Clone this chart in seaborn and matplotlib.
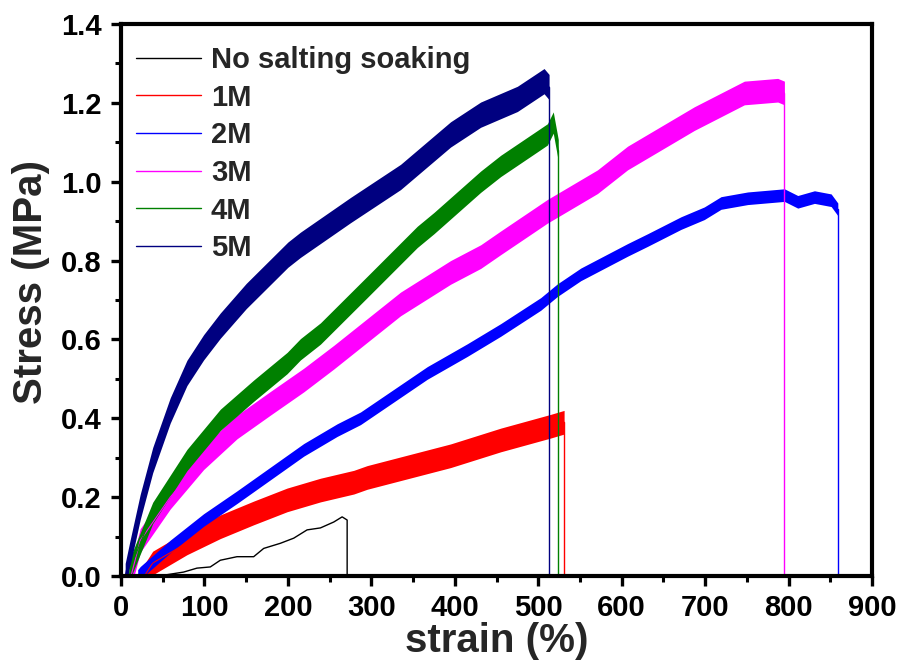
import matplotlib
matplotlib.use("Agg")
import matplotlib.pyplot as plt
import pandas as pd
import seaborn as sns
from matplotlib.ticker import MultipleLocator, FormatStrFormatter

# Tensile curves: strain (%) vs stress (MPa) for each soaking concentration
strain_none = [45, 75, 91, 107, 119, 139, 159, 171, 191, 207, 223, 239, 255, 265, 271, 271]
stress_none = [0.0, 0.010, 0.020, 0.023, 0.040, 0.049, 0.049, 0.070, 0.083, 0.096, 0.117,
               0.122, 0.137, 0.150, 0.142, 0.0]

strain_1M = [28, 38, 79, 119, 159, 199, 239, 279, 295, 395, 455, 515, 531]
stress_1M = [0.0, 0.033, 0.084, 0.125, 0.160, 0.193, 0.218, 0.238, 0.250, 0.305, 0.345, 0.380, 0.390]

strain_2M = [20, 23, 59, 99, 139, 179, 219, 259, 287, 367, 415, 455, 503, 523, 551, 607, 631,
             671, 699, 719, 751, 795, 811, 831, 851, 859]
stress_2M = [0.0, 0.008, 0.075, 0.142, 0.200, 0.260, 0.320, 0.370, 0.400, 0.515, 0.573, 0.624,
             0.690, 0.725, 0.765, 0.827, 0.852, 0.895, 0.920, 0.946, 0.958, 0.966, 0.949, 0.961,
             0.953, 0.930]

strain_3M = [12, 23, 59, 99, 139, 179, 219, 255, 335, 395, 431, 455, 511, 571, 607, 687, 747,
             787, 795]
stress_3M = [0.0, 0.090, 0.200, 0.300, 0.378, 0.438, 0.497, 0.555, 0.690, 0.770, 0.810, 0.845,
             0.925, 1.000, 1.060, 1.160, 1.225, 1.232, 1.225]

strain_4M = [10, 11, 38, 79, 119, 159, 199, 215, 239, 295, 355, 375, 431, 455, 511, 518, 524]
stress_4M = [0.0, 0.020, 0.160, 0.294, 0.396, 0.470, 0.540, 0.575, 0.615, 0.733, 0.860, 0.895,
             1.000, 1.040, 1.120, 1.150, 1.080]

strain_5M = [5, 11, 23, 38, 59, 79, 99, 119, 150, 200, 215, 275, 335, 395, 431, 475, 507, 513]
stress_5M = [0.0, 0.060, 0.175, 0.294, 0.420, 0.515, 0.580, 0.635, 0.710, 0.815, 0.840, 0.928,
             1.012, 1.120, 1.170, 1.210, 1.255, 1.240]

# half-width of the measurement noise band on each curve (MPa)
noise_1M, noise_2M, noise_3M, noise_4M, noise_5M = 0.030, 0.016, 0.030, 0.027, 0.032

labels = ["No salting soaking", "1M", "2M", "3M", "4M", "5M"]
colors = ["#000000", "#FF0000", "#0000FF", "#FF00FF", "#008000", "#000080"]

sns.set_style("ticks")
plt.rcParams["font.family"] = ["Liberation Sans", "DejaVu Sans"]
plt.rcParams["font.weight"] = "bold"

fig = plt.figure(figsize=(8.99, 6.68), dpi=100)
ax = fig.add_axes([0.1346, 0.1377, 0.8354, 0.8264])

# untreated sample: single thin trace including its break
sns.lineplot(x=strain_none, y=stress_none, estimator=None, sort=False, color=colors[0],
             lw=1.0, label=labels[0], ax=ax)

banded = [
    (strain_1M, stress_1M, noise_1M),
    (strain_2M, stress_2M, noise_2M),
    (strain_3M, stress_3M, noise_3M),
    (strain_4M, stress_4M, noise_4M),
    (strain_5M, stress_5M, noise_5M),
]

for (sx, sy, half), lab, col in zip(banded, labels[1:], colors[1:]):
    rows = []
    for x, y in zip(sx, sy):
        rows.append((x, y - half))
        rows.append((x, y + half))
    df = pd.DataFrame(rows, columns=["strain", "stress"])
    sns.lineplot(data=df, x="strain", y="stress", color=col, lw=0.8,
                 errorbar=("pi", 100), err_kws={"alpha": 1.0, "linewidth": 0},
                 label=lab, ax=ax)
    # fracture: stress falls back to zero
    ax.plot([sx[-1], sx[-1]], [sy[-1], 0.0], color=col, lw=1.0)

ax.set_xlim(0, 900)
ax.set_ylim(0, 1.4)
ax.xaxis.set_major_locator(MultipleLocator(100))
ax.xaxis.set_minor_locator(MultipleLocator(50))
ax.yaxis.set_major_locator(MultipleLocator(0.2))
ax.yaxis.set_minor_locator(MultipleLocator(0.1))
ax.yaxis.set_major_formatter(FormatStrFormatter("%.1f"))

for side in ["left", "right", "top", "bottom"]:
    ax.spines[side].set_visible(True)
    ax.spines[side].set_linewidth(3.0)
    ax.spines[side].set_color("black")

ax.tick_params(which="major", direction="out", length=7, width=2.4, labelsize=21,
               colors="black")
ax.tick_params(axis="y", which="major", pad=7)
ax.tick_params(axis="x", which="major", pad=6)
ax.tick_params(which="minor", direction="out", length=4, width=2.2, colors="black")
ax.tick_params(top=False, right=False, which="both")
for t in ax.get_xticklabels() + ax.get_yticklabels():
    t.set_fontweight("bold")

ax.set_xlabel("strain (%)", fontsize=29, fontweight="bold", labelpad=0)
ax.set_ylabel("Stress (MPa)", fontsize=29, fontweight="bold")
ax.yaxis.set_label_coords(-0.095, 0.533)

handles, names = ax.get_legend_handles_labels()
leg = ax.legend(handles, names, loc="upper left", bbox_to_anchor=(0.020, 0.960),
                frameon=False, handlelength=2.23, handletextpad=0.34,
                labelspacing=0.33, borderaxespad=0, borderpad=0,
                prop={"weight": "bold", "size": 21})
for line in leg.get_lines():
    line.set_linewidth(1.0)

fig.savefig("out.png", dpi=100)
